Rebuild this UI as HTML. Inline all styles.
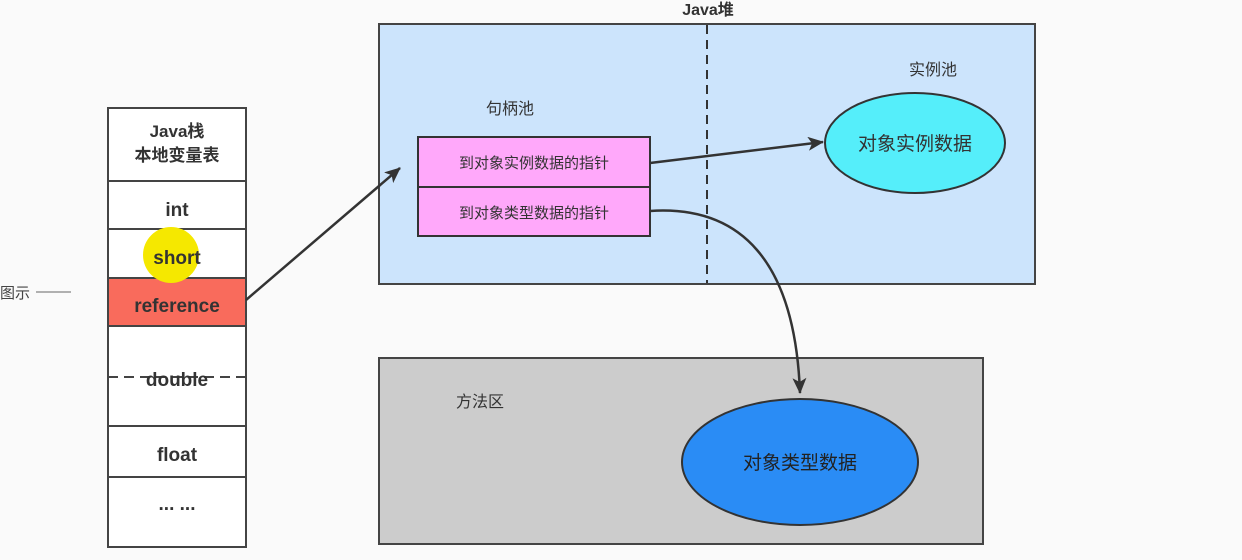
<!DOCTYPE html><html><head><meta charset="utf-8"><style>body{margin:0;background:#fafafa;}svg text{font-family:"Liberation Sans","Noto Sans CJK SC",sans-serif;}</style></head><body>
<svg width="1242" height="555" xmlns="http://www.w3.org/2000/svg">
<defs><marker id="a" markerWidth="10" markerHeight="10" refX="9" refY="5" orient="auto" markerUnits="userSpaceOnUse" viewBox="0 0 10 10"><path d="M0,0 L10,5 L0,10 z" fill="#333"/></marker>
<marker id="b" markerWidth="16" markerHeight="14" refX="15" refY="7" orient="auto" markerUnits="userSpaceOnUse"><path d="M0,0 L16,7 L0,14 L4,7 z" fill="#333"/></marker></defs>
<rect width="1242" height="555" fill="#fafafa"/>
<text x="0" y="298" font-size="15" fill="#444">图示</text><line x1="36" y1="292" x2="71" y2="292" stroke="#666"/>
<g stroke="#444" stroke-width="2">
<rect x="108" y="108" width="138" height="439" fill="#fff"/>
<rect x="108" y="278" width="138" height="48" fill="#f96b5c"/>
<line x1="108" y1="181" x2="246" y2="181"/><line x1="108" y1="229" x2="246" y2="229"/><line x1="108" y1="278" x2="246" y2="278"/><line x1="108" y1="326" x2="246" y2="326"/><line x1="108" y1="426" x2="246" y2="426"/><line x1="108" y1="477" x2="246" y2="477"/>
<line x1="108" y1="377" x2="246" y2="377" stroke-dasharray="10,6"/>
</g>
<circle cx="171" cy="255" r="28" fill="#f5e800"/>
<g font-size="19" fill="#333" text-anchor="middle" font-weight="bold">
<text x="177" y="137" font-size="17">Java栈</text><text x="177" y="161" font-size="17">本地变量表</text>
<text x="177" y="216">int</text><text x="177" y="264">short</text><text x="177" y="312">reference</text><text x="177" y="386">double</text><text x="177" y="461">float</text><text x="177" y="510">... ...</text></g>
<text x="708" y="15" font-size="16" font-weight="bold" fill="#333" text-anchor="middle">Java堆</text>
<rect x="379" y="24" width="656" height="260" fill="#cce4fc" stroke="#444" stroke-width="2"/>
<line x1="707" y1="25" x2="707" y2="283" stroke="#333" stroke-width="2" stroke-dasharray="9,6"/>
<text x="510" y="114" font-size="16" fill="#333" text-anchor="middle">句柄池</text>
<text x="933" y="75" font-size="16" fill="#333" text-anchor="middle">实例池</text>
<rect x="418" y="137" width="232" height="50" fill="#ffa8fa" stroke="#333" stroke-width="2"/>
<rect x="418" y="187" width="232" height="49" fill="#ffa8fa" stroke="#333" stroke-width="2"/>
<text x="534" y="168" font-size="15" fill="#333" text-anchor="middle">到对象实例数据的指针</text>
<text x="534" y="218" font-size="15" fill="#333" text-anchor="middle">到对象类型数据的指针</text>
<ellipse cx="915" cy="143" rx="90" ry="50" fill="#55eefa" stroke="#333" stroke-width="2"/>
<text x="915" y="150" font-size="19" fill="#333" text-anchor="middle">对象实例数据</text>
<rect x="379" y="358" width="604" height="186" fill="#cccccc" stroke="#444" stroke-width="2"/>
<text x="480" y="407" font-size="16" fill="#333" text-anchor="middle">方法区</text>
<ellipse cx="800" cy="462" rx="118" ry="63" fill="#2a8cf5" stroke="#333" stroke-width="2"/>
<text x="800" y="469" font-size="19" fill="#222" text-anchor="middle">对象类型数据</text>
<g stroke="#333" stroke-width="2.5" fill="none">
<line x1="246" y1="300" x2="400" y2="168" marker-end="url(#b)"/>
<line x1="650" y1="163" x2="823" y2="142" marker-end="url(#b)"/>
<path d="M650,211 C740,205 795,260 800,393" marker-end="url(#b)"/>
</g>
</svg></body></html>
